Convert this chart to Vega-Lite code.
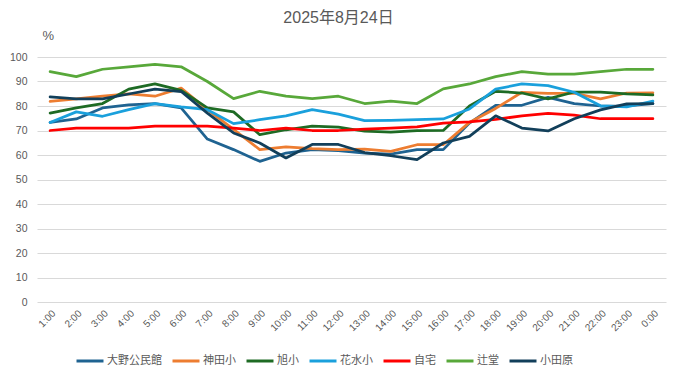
{
  "$schema": "https://vega.github.io/schema/vega-lite/v6.json",
  "autosize": {"type": "none"},
  "padding": {"left": 37, "top": 57, "right": 15, "bottom": 77},
  "width": 629,
  "height": 245,
  "background": "white",
  "title": {
    "text": "2025年8月24日",
    "fontSize": 16,
    "fontWeight": "normal",
    "color": "#595959",
    "font": "Liberation Sans, Noto Sans CJK JP",
    "anchor": "middle",
    "dx": -13,
    "offset": 3
  },
  "config": {
    "view": {"stroke": null},
    "font": "Liberation Sans, Noto Sans CJK JP",
    "axis": {"labelColor": "#595959", "titleColor": "#595959", "labelFontSize": 10, "gridColor": "#D9D9D9", "gridWidth": 1}
  },
  "data": {
    "values": [
      {"time": "1:00", "site": "大野公民館", "value": 73.3},
      {"time": "2:00", "site": "大野公民館", "value": 74.7},
      {"time": "3:00", "site": "大野公民館", "value": 79.2},
      {"time": "4:00", "site": "大野公民館", "value": 80.5},
      {"time": "5:00", "site": "大野公民館", "value": 81},
      {"time": "6:00", "site": "大野公民館", "value": 79.2},
      {"time": "7:00", "site": "大野公民館", "value": 66.5},
      {"time": "8:00", "site": "大野公民館", "value": 62.2},
      {"time": "9:00", "site": "大野公民館", "value": 57.4},
      {"time": "10:00", "site": "大野公民館", "value": 60.8},
      {"time": "11:00", "site": "大野公民館", "value": 62.2},
      {"time": "12:00", "site": "大野公民館", "value": 61.8},
      {"time": "13:00", "site": "大野公民館", "value": 60.8},
      {"time": "14:00", "site": "大野公民館", "value": 60.4},
      {"time": "15:00", "site": "大野公民館", "value": 62.2},
      {"time": "16:00", "site": "大野公民館", "value": 62.2},
      {"time": "17:00", "site": "大野公民館", "value": 73},
      {"time": "18:00", "site": "大野公民館", "value": 80.3},
      {"time": "19:00", "site": "大野公民館", "value": 80.3},
      {"time": "20:00", "site": "大野公民館", "value": 83.5},
      {"time": "21:00", "site": "大野公民館", "value": 81},
      {"time": "22:00", "site": "大野公民館", "value": 80},
      {"time": "23:00", "site": "大野公民館", "value": 80},
      {"time": "0:00", "site": "大野公民館", "value": 81},
      {"time": "1:00", "site": "神田小", "value": 81.9},
      {"time": "2:00", "site": "神田小", "value": 82.9},
      {"time": "3:00", "site": "神田小", "value": 84},
      {"time": "4:00", "site": "神田小", "value": 84.9},
      {"time": "5:00", "site": "神田小", "value": 84},
      {"time": "6:00", "site": "神田小", "value": 87.3},
      {"time": "7:00", "site": "神田小", "value": 78.5},
      {"time": "8:00", "site": "神田小", "value": 70.5},
      {"time": "9:00", "site": "神田小", "value": 62.2},
      {"time": "10:00", "site": "神田小", "value": 63.3},
      {"time": "11:00", "site": "神田小", "value": 62.6},
      {"time": "12:00", "site": "神田小", "value": 62.2},
      {"time": "13:00", "site": "神田小", "value": 62.4},
      {"time": "14:00", "site": "神田小", "value": 61.5},
      {"time": "15:00", "site": "神田小", "value": 64.2},
      {"time": "16:00", "site": "神田小", "value": 64.2},
      {"time": "17:00", "site": "神田小", "value": 73.3},
      {"time": "18:00", "site": "神田小", "value": 79},
      {"time": "19:00", "site": "神田小", "value": 85.6},
      {"time": "20:00", "site": "神田小", "value": 85.2},
      {"time": "21:00", "site": "神田小", "value": 85.2},
      {"time": "22:00", "site": "神田小", "value": 82.9},
      {"time": "23:00", "site": "神田小", "value": 85.3},
      {"time": "0:00", "site": "神田小", "value": 85.4},
      {"time": "1:00", "site": "旭小", "value": 77.1},
      {"time": "2:00", "site": "旭小", "value": 79.2},
      {"time": "3:00", "site": "旭小", "value": 81},
      {"time": "4:00", "site": "旭小", "value": 86.9},
      {"time": "5:00", "site": "旭小", "value": 89},
      {"time": "6:00", "site": "旭小", "value": 86.4},
      {"time": "7:00", "site": "旭小", "value": 79.2},
      {"time": "8:00", "site": "旭小", "value": 77.6},
      {"time": "9:00", "site": "旭小", "value": 68.3},
      {"time": "10:00", "site": "旭小", "value": 70.3},
      {"time": "11:00", "site": "旭小", "value": 71.8},
      {"time": "12:00", "site": "旭小", "value": 71.4},
      {"time": "13:00", "site": "旭小", "value": 69.7},
      {"time": "14:00", "site": "旭小", "value": 69.3},
      {"time": "15:00", "site": "旭小", "value": 69.9},
      {"time": "16:00", "site": "旭小", "value": 70},
      {"time": "17:00", "site": "旭小", "value": 80},
      {"time": "18:00", "site": "旭小", "value": 86},
      {"time": "19:00", "site": "旭小", "value": 85.3},
      {"time": "20:00", "site": "旭小", "value": 82.9},
      {"time": "21:00", "site": "旭小", "value": 85.7},
      {"time": "22:00", "site": "旭小", "value": 85.7},
      {"time": "23:00", "site": "旭小", "value": 84.9},
      {"time": "0:00", "site": "旭小", "value": 84.5},
      {"time": "1:00", "site": "花水小", "value": 73.3},
      {"time": "2:00", "site": "花水小", "value": 77.6},
      {"time": "3:00", "site": "花水小", "value": 75.8},
      {"time": "4:00", "site": "花水小", "value": 78.5},
      {"time": "5:00", "site": "花水小", "value": 81},
      {"time": "6:00", "site": "花水小", "value": 79.6},
      {"time": "7:00", "site": "花水小", "value": 78.5},
      {"time": "8:00", "site": "花水小", "value": 72.8},
      {"time": "9:00", "site": "花水小", "value": 74.4},
      {"time": "10:00", "site": "花水小", "value": 76},
      {"time": "11:00", "site": "花水小", "value": 78.5},
      {"time": "12:00", "site": "花水小", "value": 76.7},
      {"time": "13:00", "site": "花水小", "value": 74},
      {"time": "14:00", "site": "花水小", "value": 74.1},
      {"time": "15:00", "site": "花水小", "value": 74.4},
      {"time": "16:00", "site": "花水小", "value": 74.7},
      {"time": "17:00", "site": "花水小", "value": 78.8},
      {"time": "18:00", "site": "花水小", "value": 86.9},
      {"time": "19:00", "site": "花水小", "value": 89},
      {"time": "20:00", "site": "花水小", "value": 88.3},
      {"time": "21:00", "site": "花水小", "value": 85.6},
      {"time": "22:00", "site": "花水小", "value": 80.1},
      {"time": "23:00", "site": "花水小", "value": 79.6},
      {"time": "0:00", "site": "花水小", "value": 82},
      {"time": "1:00", "site": "自宅", "value": 70},
      {"time": "2:00", "site": "自宅", "value": 71},
      {"time": "3:00", "site": "自宅", "value": 71},
      {"time": "4:00", "site": "自宅", "value": 71},
      {"time": "5:00", "site": "自宅", "value": 71.8},
      {"time": "6:00", "site": "自宅", "value": 71.8},
      {"time": "7:00", "site": "自宅", "value": 71.8},
      {"time": "8:00", "site": "自宅", "value": 71},
      {"time": "9:00", "site": "自宅", "value": 70},
      {"time": "10:00", "site": "自宅", "value": 71},
      {"time": "11:00", "site": "自宅", "value": 70},
      {"time": "12:00", "site": "自宅", "value": 70},
      {"time": "13:00", "site": "自宅", "value": 70.6},
      {"time": "14:00", "site": "自宅", "value": 71},
      {"time": "15:00", "site": "自宅", "value": 71.5},
      {"time": "16:00", "site": "自宅", "value": 73},
      {"time": "17:00", "site": "自宅", "value": 73.5},
      {"time": "18:00", "site": "自宅", "value": 74.5},
      {"time": "19:00", "site": "自宅", "value": 76},
      {"time": "20:00", "site": "自宅", "value": 77},
      {"time": "21:00", "site": "自宅", "value": 76.3},
      {"time": "22:00", "site": "自宅", "value": 74.8},
      {"time": "23:00", "site": "自宅", "value": 74.8},
      {"time": "0:00", "site": "自宅", "value": 74.8},
      {"time": "1:00", "site": "辻堂", "value": 94},
      {"time": "2:00", "site": "辻堂", "value": 92},
      {"time": "3:00", "site": "辻堂", "value": 95},
      {"time": "4:00", "site": "辻堂", "value": 96},
      {"time": "5:00", "site": "辻堂", "value": 97},
      {"time": "6:00", "site": "辻堂", "value": 96},
      {"time": "7:00", "site": "辻堂", "value": 90},
      {"time": "8:00", "site": "辻堂", "value": 83},
      {"time": "9:00", "site": "辻堂", "value": 86},
      {"time": "10:00", "site": "辻堂", "value": 84},
      {"time": "11:00", "site": "辻堂", "value": 83},
      {"time": "12:00", "site": "辻堂", "value": 84},
      {"time": "13:00", "site": "辻堂", "value": 81},
      {"time": "14:00", "site": "辻堂", "value": 82},
      {"time": "15:00", "site": "辻堂", "value": 81},
      {"time": "16:00", "site": "辻堂", "value": 87},
      {"time": "17:00", "site": "辻堂", "value": 89},
      {"time": "18:00", "site": "辻堂", "value": 92},
      {"time": "19:00", "site": "辻堂", "value": 94},
      {"time": "20:00", "site": "辻堂", "value": 93},
      {"time": "21:00", "site": "辻堂", "value": 93},
      {"time": "22:00", "site": "辻堂", "value": 94},
      {"time": "23:00", "site": "辻堂", "value": 95},
      {"time": "0:00", "site": "辻堂", "value": 95},
      {"time": "1:00", "site": "小田原", "value": 83.7},
      {"time": "2:00", "site": "小田原", "value": 82.9},
      {"time": "3:00", "site": "小田原", "value": 82.9},
      {"time": "4:00", "site": "小田原", "value": 84.9},
      {"time": "5:00", "site": "小田原", "value": 86.9},
      {"time": "6:00", "site": "小田原", "value": 85.9},
      {"time": "7:00", "site": "小田原", "value": 77.1},
      {"time": "8:00", "site": "小田原", "value": 69},
      {"time": "9:00", "site": "小田原", "value": 64.9},
      {"time": "10:00", "site": "小田原", "value": 58.8},
      {"time": "11:00", "site": "小田原", "value": 64.3},
      {"time": "12:00", "site": "小田原", "value": 64.3},
      {"time": "13:00", "site": "小田原", "value": 61},
      {"time": "14:00", "site": "小田原", "value": 59.7},
      {"time": "15:00", "site": "小田原", "value": 58.1},
      {"time": "16:00", "site": "小田原", "value": 64.9},
      {"time": "17:00", "site": "小田原", "value": 67.6},
      {"time": "18:00", "site": "小田原", "value": 76},
      {"time": "19:00", "site": "小田原", "value": 71},
      {"time": "20:00", "site": "小田原", "value": 69.8},
      {"time": "21:00", "site": "小田原", "value": 74.8},
      {"time": "22:00", "site": "小田原", "value": 78.4},
      {"time": "23:00", "site": "小田原", "value": 80.9},
      {"time": "0:00", "site": "小田原", "value": 81}
    ]
  },
  "mark": {"type": "line", "strokeWidth": 2.75, "strokeJoin": "round", "strokeCap": "round"},
  "encoding": {
    "x": {
      "field": "time",
      "type": "ordinal",
      "sort": ["1:00","2:00","3:00","4:00","5:00","6:00","7:00","8:00","9:00","10:00","11:00","12:00","13:00","14:00","15:00","16:00","17:00","18:00","19:00","20:00","21:00","22:00","23:00","0:00"],
      "scale": {"type": "point", "padding": 0.5},
      "axis": {"title": null, "labelAngle": -45, "ticks": false, "domain": false, "grid": false, "labelPadding": 6, "labelFontSize": 10}
    },
    "y": {
      "field": "value",
      "type": "quantitative",
      "scale": {"domain": [0, 100], "nice": false},
      "axis": {"title": "%", "titleAngle": 0, "titleX": 5, "titleY": -22, "titleAlign": "left", "titleBaseline": "middle", "titleFontSize": 13, "titleFontWeight": "normal", "values": [0,10,20,30,40,50,60,70,80,90,100], "ticks": false, "domain": false, "labelPadding": 10, "labelFontSize": 10.5}
    },
    "color": {
      "field": "site",
      "type": "nominal",
      "scale": {
        "domain": ["大野公民館","神田小","旭小","花水小","自宅","辻堂","小田原"],
        "range": ["#1F6391","#ED7D31","#1E6B24","#1AA0DC","#FF0000","#58A83A","#123F5A"]
      },
      "legend": {
        "title": null,
        "orient": "none",
        "direction": "horizontal",
        "legendX": 38,
        "legendY": 289,
        "symbolType": "stroke",
        "symbolSize": 729,
        "symbolStrokeWidth": 3,
        "labelFontSize": 11,
        "labelColor": "#595959",
        "labelOffset": 2,
        "columnPadding": 4
      }
    }
  }
}
